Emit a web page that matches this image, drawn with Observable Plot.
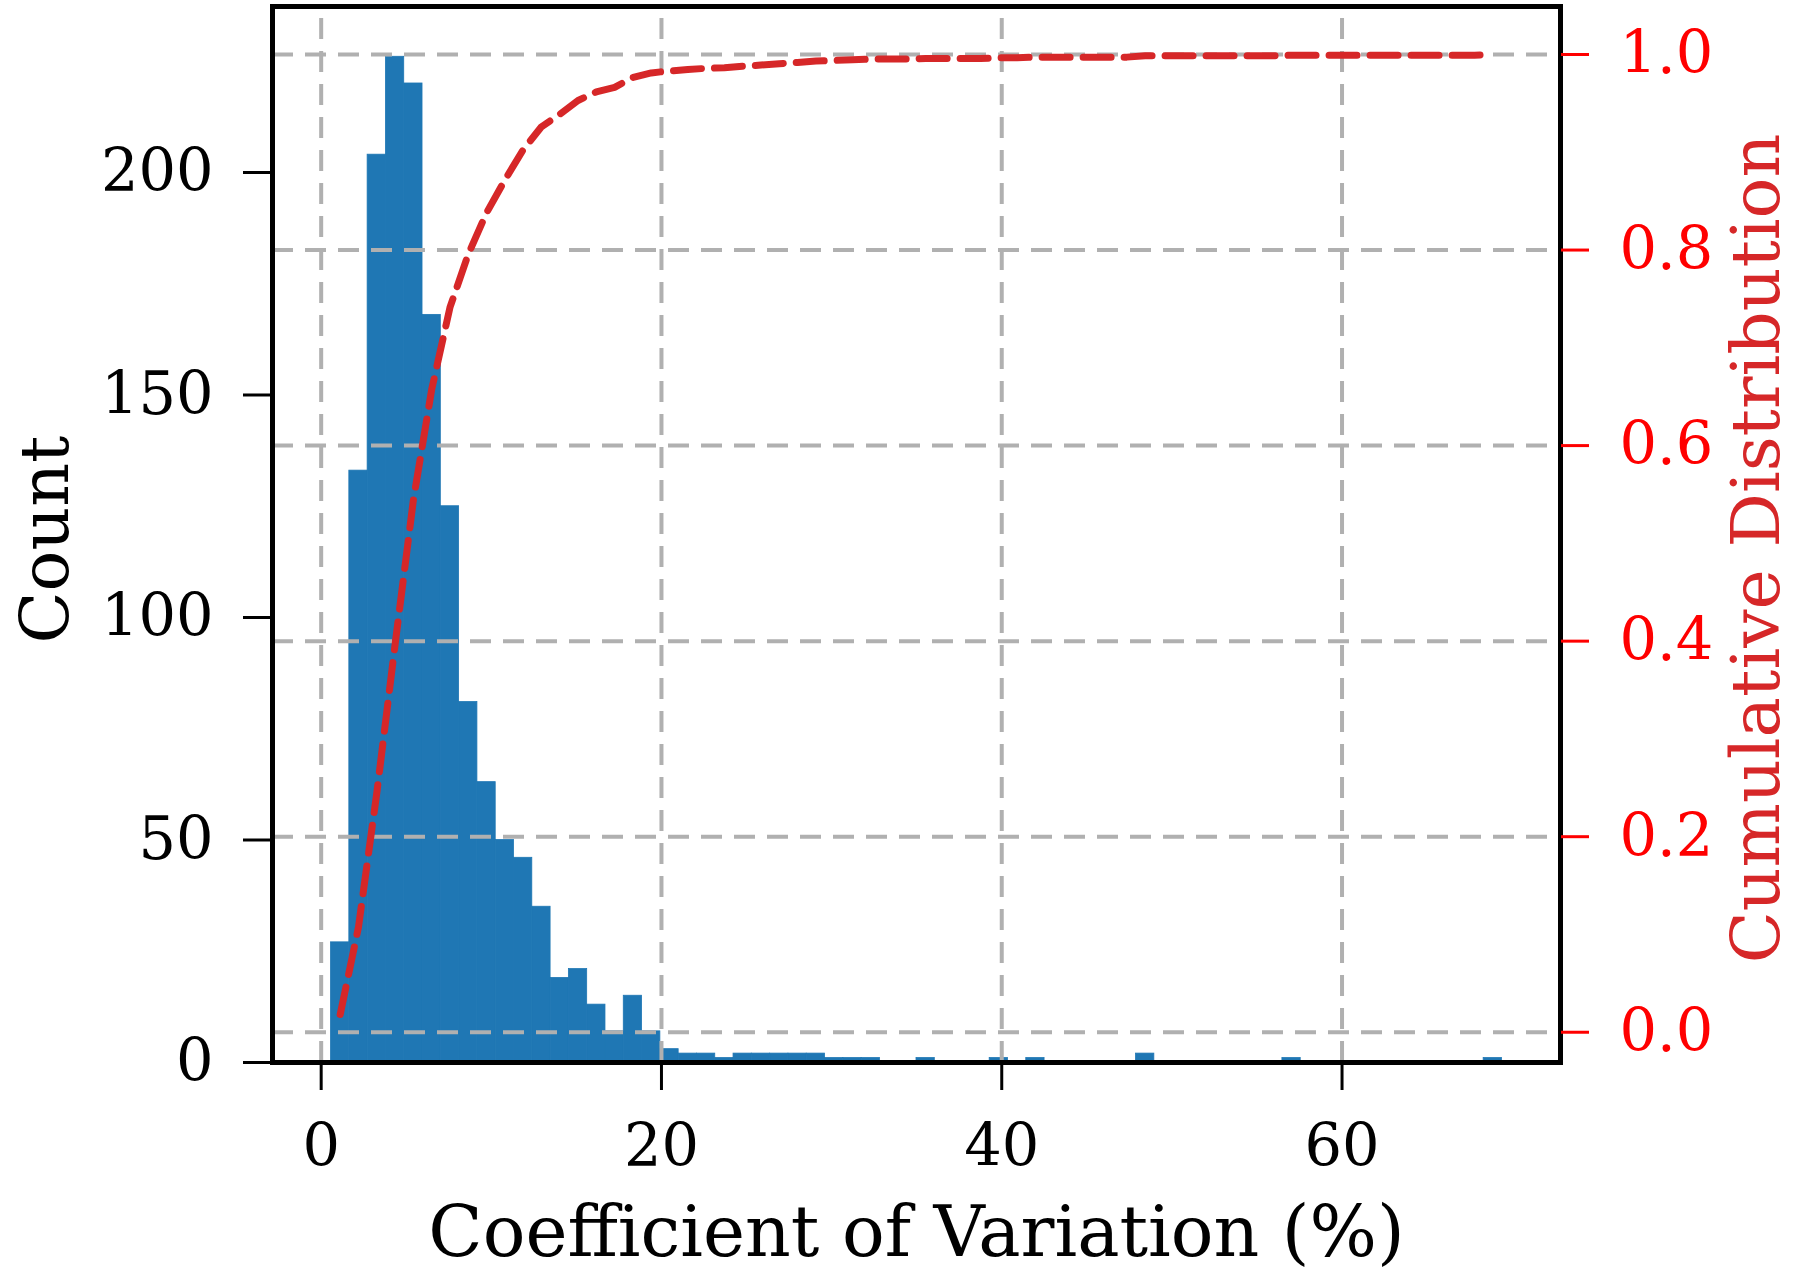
<!DOCTYPE html>
<html><head><meta charset="utf-8">
<script src="https://cdn.jsdelivr.net/npm/d3@7"></script>
<script src="https://cdn.jsdelivr.net/npm/@observablehq/plot@0.6"></script>
<style>body{margin:0;background:#fff} svg{display:block}</style>
</head><body><div id="chart"></div>
<script>
// Histogram of coefficient of variation (%), 64 equal-width bins
const binStart = 0.58;
const binWidth = 1.0753;
const counts = [27,133,204,226,220,168,125,81,63,50,46,35,19,21,13,7,15,7,
  3,2,2,1,2,2,2,2,2,1,1,1, 0,0, 1, 0,0,0, 1, 0, 1, 0,0,0,0,0, 2,
  0,0,0,0,0,0,0, 1, 0,0,0,0,0,0,0,0,0,0, 1];
const xTicks = [0, 20, 40, 60];
const countTicks = [0, 50, 100, 150, 200];
const cdfTicks = [0.0, 0.2, 0.4, 0.6, 0.8, 1.0];
const xLabel = "Coefficient of Variation (%)";
const yLabel = "Count";
const y2Label = "Cumulative Distribution";

const total = d3.sum(counts);
const cum = d3.cumsum(counts);
const bins = counts.map((c, i) => ({
  x1: binStart + i * binWidth,
  x2: binStart + (i + 1) * binWidth,
  center: binStart + (i + 0.5) * binWidth,
  count: c,
  cdf: cum[i] / total
}));

// matplotlib-like 5% margins
const xLo = binStart, xHi = binStart + counts.length * binWidth;
const xPad = 0.05 * (xHi - xLo);
const yMax = d3.max(counts) * 1.05;
const c0 = bins[0].cdf;
const cLo = c0 - 0.05 * (1 - c0), cHi = 1 + 0.05 * (1 - c0);
const toY = v => (v - cLo) / (cHi - cLo) * yMax;
const fromY = y => cLo + y / yMax * (cHi - cLo);

const gridStyle = {stroke: "#b0b0b0", strokeOpacity: 1, strokeWidth: 4, strokeDasharray: "21,12"};

const chart = Plot.plot({
  width: 1800,
  height: 1276,
  marginLeft: 272,
  marginRight: 240,
  marginTop: 6,
  marginBottom: 214,
  style: {fontFamily: "'DejaVu Serif', serif", background: "#fff", color: "black"},
  x: {domain: [xLo - xPad, xHi + xPad]},
  y: {domain: [0, yMax]},
  marks: [
    Plot.rectY(bins.filter(d => d.count > 0), {x1: "x1", x2: "x2", y: "count", fill: "#1f77b4", stroke: "#1f77b4", strokeWidth: 0.8}),
    Plot.gridX(xTicks, {...gridStyle, y1: 0, y2: yMax}),
    Plot.gridY(cdfTicks.map(toY), gridStyle),
    Plot.line(bins, {x: "center", y: d => toY(d.cdf), stroke: "#d62728", strokeWidth: 7, strokeDasharray: "28,13"}),
    Plot.frame({stroke: "black", strokeWidth: 5}),
    Plot.axisX(xTicks, {tickSize: 28, tickPadding: 34, fontSize: 59, strokeWidth: 3, label: null}),
    Plot.axisY(countTicks, {anchor: "left", tickSize: 29, tickPadding: 30, fontSize: 59, strokeWidth: 3, label: null}),
    Plot.axisY(cdfTicks.map(toY), {anchor: "right", tickFormat: d => fromY(d).toFixed(1), color: "red",
      tickSize: 28, tickPadding: 31, fontSize: 59, strokeWidth: 3, label: null}),
    Plot.text([xLabel], {text: d => d, frameAnchor: "bottom", dy: 171, fontSize: 71, lineAnchor: "middle", textAnchor: "middle", fill: "black"}),
    Plot.text([yLabel], {text: d => d, frameAnchor: "left", rotate: -90, dx: -226, dy: 5, fontSize: 68, lineAnchor: "middle", textAnchor: "middle", fill: "black"}),
    Plot.text([y2Label], {text: d => d, frameAnchor: "right", rotate: -90, dx: 197, dy: 14, fontSize: 68, lineAnchor: "middle", textAnchor: "middle", fill: "#d62728"})
  ]
});
document.getElementById("chart").appendChild(chart);
</script>
</body></html>
